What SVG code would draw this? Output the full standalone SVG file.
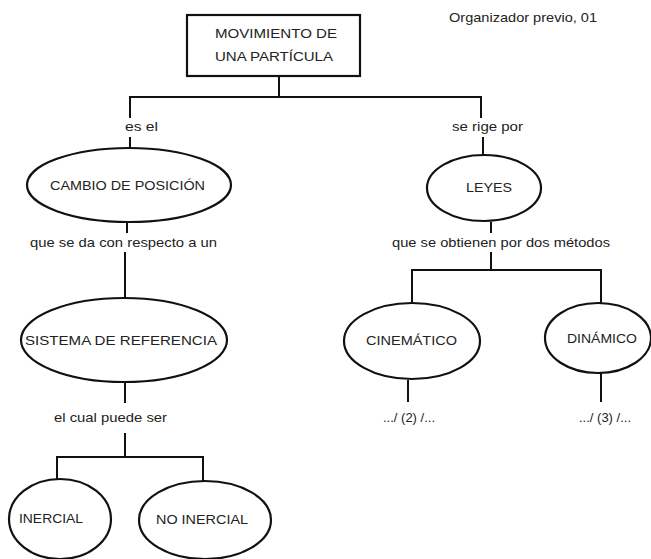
<svg xmlns="http://www.w3.org/2000/svg" width="651" height="559" viewBox="0 0 651 559">
<style>
.bg{fill:#ffffff}
.n{fill:#ffffff;stroke:#111;stroke-width:2.2}
.c{fill:none;stroke:#111;stroke-width:2}
text{font-family:"Liberation Sans",Arial,sans-serif;font-size:13.5px;fill:#222}
</style>
<rect class="bg" x="0" y="0" width="651" height="559"/>
<g id="connectors">
<polyline class="c" points="279,76 279,97"/>
<polyline class="c" points="130,118 130,97 481,97 481,118"/>
<polyline class="c" points="130,137 130,148"/>
<polyline class="c" points="483,137 483,155"/>
<polyline class="c" points="127,223 127,233"/>
<polyline class="c" points="125,252 125,298"/>
<polyline class="c" points="491,222 491,233"/>
<polyline class="c" points="491,252 491,270"/>
<polyline class="c" points="412,303 412,270 601,270 601,303"/>
<polyline class="c" points="125,383 125,403"/>
<polyline class="c" points="408,380 408,402"/>
<polyline class="c" points="601,372 601,402"/>
<polyline class="c" points="125,433 125,457"/>
<polyline class="c" points="57,480 57,457 203,457 203,482"/>
</g>
<g id="labels">
<text x="449" y="22" textLength="148" lengthAdjust="spacingAndGlyphs">Organizador previo,  01</text>
<text x="125" y="131" textLength="33" lengthAdjust="spacingAndGlyphs">es el</text>
<text x="452" y="131" textLength="71" lengthAdjust="spacingAndGlyphs">se rige por</text>
<text x="30" y="247" textLength="187" lengthAdjust="spacingAndGlyphs">que se da con respecto a un</text>
<text x="392" y="247" textLength="218" lengthAdjust="spacingAndGlyphs">que se obtienen por dos métodos</text>
<text x="54" y="422" textLength="113" lengthAdjust="spacingAndGlyphs">el cual puede ser</text>
<text x="383" y="422" textLength="52" lengthAdjust="spacingAndGlyphs">.../ (2) /...</text>
<text x="579" y="422" textLength="52" lengthAdjust="spacingAndGlyphs">.../ (3) /...</text>
</g>
<g id="movimiento">
<rect class="n" x="187" y="15" width="173" height="61"/>
<text x="215" y="38" textLength="122" lengthAdjust="spacingAndGlyphs">MOVIMIENTO DE</text>
<text x="215" y="61" textLength="118" lengthAdjust="spacingAndGlyphs">UNA PARTÍCULA</text>
</g>
<g id="cambio">
<ellipse class="n" cx="129" cy="185" rx="102" ry="37"/>
<text x="50" y="190" textLength="155" lengthAdjust="spacingAndGlyphs">CAMBIO DE POSICIÓN</text>
</g>
<g id="leyes">
<ellipse class="n" cx="484" cy="188" rx="57" ry="33"/>
<text x="466" y="192" textLength="46" lengthAdjust="spacingAndGlyphs">LEYES</text>
</g>
<g id="sistema">
<ellipse class="n" cx="124" cy="340" rx="103" ry="42"/>
<text x="25" y="345" textLength="192" lengthAdjust="spacingAndGlyphs">SISTEMA DE REFERENCIA</text>
</g>
<g id="cinematico">
<ellipse class="n" cx="412" cy="341" rx="68" ry="38"/>
<text x="366" y="345" textLength="91" lengthAdjust="spacingAndGlyphs">CINEMÁTICO</text>
</g>
<g id="dinamico">
<ellipse class="n" cx="598" cy="338" rx="53" ry="35"/>
<text x="567" y="343" textLength="70" lengthAdjust="spacingAndGlyphs">DINÁMICO</text>
</g>
<g id="inercial">
<ellipse class="n" cx="60" cy="519" rx="51" ry="40"/>
<text x="19" y="523" textLength="64" lengthAdjust="spacingAndGlyphs">INERCIAL</text>
</g>
<g id="noinercial">
<ellipse class="n" cx="205" cy="520" rx="66" ry="39"/>
<text x="156" y="524" textLength="92" lengthAdjust="spacingAndGlyphs">NO INERCIAL</text>
</g>
</svg>
